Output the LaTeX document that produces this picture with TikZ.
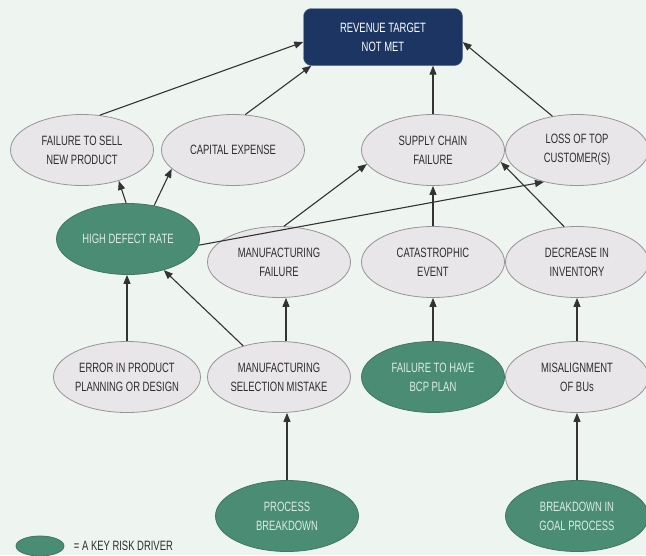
\documentclass[tikz,border=0pt]{standalone}
\usepackage{fontspec}
\setmainfont[FakeStretch=0.7]{Liberation Sans}
\usetikzlibrary{shapes.geometric,arrows.meta}
\definecolor{bgcol}{HTML}{EEF4EF}
\definecolor{bubblegrey}{HTML}{E9E6E9}
\definecolor{edgegrey}{HTML}{959595}
\definecolor{textgrey}{HTML}{2E2E2E}
\definecolor{drivergreen}{HTML}{4B8C74}
\definecolor{drivertext}{HTML}{DCEDE4}
\definecolor{targetblue}{HTML}{1C3562}
\definecolor{linegrey}{HTML}{333333}
\begin{document}
\begin{tikzpicture}[x=1pt,y=-1pt]
\tikzstyle{risk} = [ellipse, minimum width=143pt, minimum height=71pt, inner sep=0, draw=edgegrey, line width=0.8pt, fill=bubblegrey, text=textgrey, align=center, font=\fontsize{13.5}{19}\selectfont]
\tikzstyle{driver} = [risk, draw=drivergreen!85!black, fill=drivergreen, text=drivertext]
\tikzstyle{target} = [rectangle, rounded corners=8pt, minimum width=159pt, minimum height=57pt, fill=targetblue, draw=targetblue!70!white, text=white, align=center, font=\fontsize{13.5}{19}\selectfont]
\tikzstyle{link} = [-{Triangle[length=9pt,width=7pt]}, line width=1.1pt, draw=linegrey]

\fill [bgcol] (0,0) rectangle (646,555);
\useasboundingbox (0,0) rectangle (646,555);

% top
\node [target] (rev) at (383,37) {REVENUE TARGET\\NOT MET};

% first row
\node [risk] (fts) at (82,150) {FAILURE TO SELL\\NEW PRODUCT};
\node [risk] (cap) at (233,150) {CAPITAL EXPENSE};
\node [risk] (sc) at (433,150) {SUPPLY CHAIN\\FAILURE};
\node [risk] (loss) at (577,150) {LOSS OF TOP\\CUSTOMER(S)};

% second row
\node [driver] (hdr) at (128,239) {HIGH DEFECT RATE};
\node [risk] (mf) at (279,262) {MANUFACTURING\\FAILURE};
\node [risk] (cat) at (433,262) {CATASTROPHIC\\EVENT};
\node [risk] (dec) at (577,262) {DECREASE IN\\INVENTORY};

% third row
\node [risk] (err) at (127,377) {ERROR IN PRODUCT\\PLANNING OR DESIGN};
\node [risk] (ms) at (279,377) {MANUFACTURING\\SELECTION MISTAKE};
\node [driver] (bcp) at (433,377) {FAILURE TO HAVE\\BCP PLAN};
\node [risk] (mis) at (577,377) {MISALIGNMENT\\OF BUs};

% bottom
\node [driver] (pb) at (287,516) {PROCESS\\BREAKDOWN};
\node [driver] (goal) at (577,516) {BREAKDOWN IN\\GOAL PROCESS};

% legend
\node [driver, minimum width=48pt, minimum height=20pt] (key) at (40,546) {};
\node [anchor=west, text=textgrey, font=\fontsize{13.5}{16}\selectfont] (keytext) at ([xshift=6pt]key.east) {= A KEY RISK DRIVER};

\draw [link] (fts.63) -- ([yshift=-5pt]rev.west);
\draw [link] (cap.71) -- ([xshift=8pt]rev.south west);
\draw [link] (sc.north) -- (sc.north |- rev.south);
\draw [link] (loss.126) -- ([yshift=-5pt]rev.east);
\draw [link] (hdr.93) -- (fts.-40);
\draw [link] (hdr.52) -- (cap.197);
\draw [link] (mf.82) -- (sc.192);
\draw [link] (hdr.-5) -- (loss.224);
\draw [link] (cat) -- (sc);
\draw [link] (dec.110) -- (sc.-10);
\draw [link] (err.north) -- (err.north |- hdr.south);
\draw [link] (ms.139) -- (hdr.-41);
\draw [link] ([xshift=7pt]ms.north) -- ([xshift=7pt]mf.south);
\draw [link] (bcp) -- (cat);
\draw [link] (mis) -- (dec);
\draw [link] (pb.north) -- (pb.north |- ms.south);
\draw [link] (goal) -- (mis);
\end{tikzpicture}
\end{document}
